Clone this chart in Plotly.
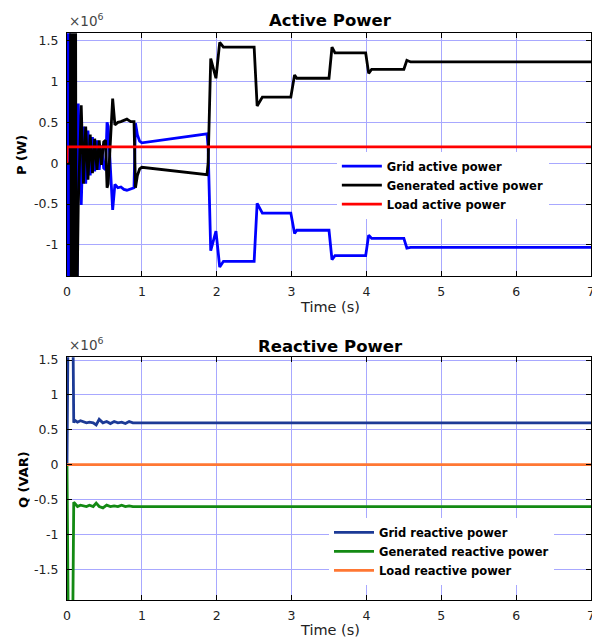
import plotly.graph_objects as go

# ---------------- data (values in units of 1e6) ----------------
t_grid_p = [0, 0.004, 0.01, 0.016, 0.022, 0.028, 0.034, 0.11, 0.128, 0.15, 0.19, 0.22, 0.25, 0.28,
            0.31, 0.34, 0.37, 0.40, 0.43, 0.46, 0.49, 0.515, 0.535, 0.55, 0.61, 0.64, 0.68, 0.72,
            0.76, 0.80, 0.85, 0.895, 0.915, 0.94, 0.97, 1.0, 1.87, 1.885, 1.92, 1.99, 2.04, 2.09,
            2.5, 2.54, 2.61, 2.99, 3.04, 3.07, 3.5, 3.54, 3.58, 3.99, 4.03, 4.07, 4.5, 4.54, 4.59, 7.0]
grid_p = [0, 2.5, -2.5, 2.5, -2.5, 2.5, 0.2, 0.2, -2.5, 0.73, -0.51, 0.45, -0.25, 0.4,
          -0.15, 0.32, -0.1, 0.28, -0.08, 0.22, -0.06, -0.08, 0.5, 0.45, -0.57, -0.26, -0.3, -0.29,
          -0.32, -0.33, -0.31, -0.3, 0.49, 0.35, 0.27, 0.25, 0.36, 0.2, -1.07, -0.83, -1.27, -1.2,
          -1.2, -0.49, -0.61, -0.61, -0.86, -0.82, -0.82, -1.18, -1.13, -1.13, -0.88, -0.92, -0.92,
          -1.04, -1.03, -1.03]

t_gen_p = [0, 0.045, 0.05, 0.058, 0.066, 0.074, 0.082, 0.09, 0.098, 0.106, 0.114, 0.122,
           0.15, 0.19, 0.22, 0.25, 0.28, 0.31, 0.34, 0.37, 0.40, 0.43, 0.46, 0.49,
           0.515, 0.535, 0.55, 0.61, 0.64, 0.68, 0.72, 0.76, 0.80, 0.85, 0.895, 0.915, 0.94, 0.97, 1.0,
           1.87, 1.885, 1.92, 1.99, 2.04, 2.09, 2.5, 2.54, 2.61, 2.99,
           3.04, 3.07, 3.5, 3.54, 3.58, 3.99, 4.03, 4.07, 4.5, 4.54, 4.59, 7.0]
gen_p = [0, 0, 2.5, -2.5, 2.5, -2.5, 2.5, -2.5, 2.5, -2.5, 2.5, -2.5,
         -0.53, 0.71, -0.25, 0.45, -0.2, 0.35, -0.12, 0.3, -0.08, 0.28, -0.02, 0.26,
         0.28, -0.3, -0.25, 0.79, 0.47, 0.5, 0.51, 0.53, 0.54, 0.51, 0.51, -0.3, -0.15, -0.07, -0.05,
         -0.14, 0.0, 1.28, 1.04, 1.48, 1.42, 1.42, 0.7, 0.81, 0.81,
         1.08, 1.04, 1.04, 1.42, 1.35, 1.35, 1.1, 1.15, 1.15, 1.26, 1.24, 1.24]

t_load_p = [0, 0.004, 7.0]
load_p = [0, 0.2, 0.2]

t_q = [0, 0.018, 0.075, 0.09, 0.1, 0.14, 0.18, 0.22, 0.26, 0.3, 0.35, 0.39, 0.43, 0.48,
       0.53, 0.58, 0.63, 0.68, 0.73, 0.78, 0.83, 0.88, 0.95, 7.0]
grid_q = [0, 2.5, 2.5, 0.6, 0.64, 0.61, 0.63, 0.62, 0.6, 0.61, 0.6, 0.57, 0.65, 0.6,
          0.62, 0.59, 0.62, 0.6, 0.61, 0.59, 0.62, 0.6, 0.6, 0.6]
gen_q = [0, -2.5, -2.5, -0.54, -0.55, -0.6, -0.58, -0.59, -0.6, -0.58, -0.6, -0.55, -0.6, -0.62,
         -0.58, -0.6, -0.59, -0.6, -0.58, -0.6, -0.59, -0.6, -0.6, -0.6]
t_load_q = [0, 7.0]
load_q = [0, 0]

x_ticks = [0, 1, 2, 3, 4, 5, 6, 7]
p_ticks = [-1, -0.5, 0, 0.5, 1, 1.5]
p_labels = ["-1", "-0.5", "0", "0.5", "1", "1.5"]
q_ticks = [-1.5, -1, -0.5, 0, 0.5, 1, 1.5]
q_labels = ["-1.5", "-1", "-0.5", "0", "0.5", "1", "1.5"]

# ---------------- figure ----------------
FONT = "DejaVu Sans"
LW = 2.8
fig = go.Figure()
fig.add_trace(go.Scatter(x=t_grid_p, y=grid_p, mode="lines", name="Grid active power",
                         line=dict(color="#0000ff", width=LW), xaxis="x", yaxis="y", legend="legend"))
fig.add_trace(go.Scatter(x=t_gen_p, y=gen_p, mode="lines", name="Generated active power",
                         line=dict(color="#000000", width=LW), xaxis="x", yaxis="y", legend="legend"))
fig.add_trace(go.Scatter(x=t_load_p, y=load_p, mode="lines", name="Load active power",
                         line=dict(color="#ff0000", width=LW), xaxis="x", yaxis="y", legend="legend"))
fig.add_trace(go.Scatter(x=t_q, y=grid_q, mode="lines", name="Grid reactive power",
                         line=dict(color="#1c3a96", width=LW), xaxis="x2", yaxis="y2", legend="legend2"))
fig.add_trace(go.Scatter(x=t_q, y=gen_q, mode="lines", name="Generated reactive power",
                         line=dict(color="#138a13", width=LW), xaxis="x2", yaxis="y2", legend="legend2"))
fig.add_trace(go.Scatter(x=t_load_q, y=load_q, mode="lines", name="Load reactive power",
                         line=dict(color="#ff7733", width=LW), xaxis="x2", yaxis="y2", legend="legend2"))

GRID = "#a8a8ff"
tickfont = dict(family=FONT, size=12.5, color="#222222")
common_x = dict(range=[0, 7], tickvals=x_ticks, ticktext=[str(v) for v in x_ticks],
                showgrid=True, gridcolor=GRID, gridwidth=1, zeroline=False,
                showline=True, linecolor="#000000", linewidth=1, mirror="ticks",
                ticks="inside", ticklen=5, tickcolor="#000000", tickfont=tickfont,
                ticklabelstandoff=4, automargin=False, ticklabeloverflow="allow")
common_y = dict(showgrid=True, gridcolor=GRID, gridwidth=1, zeroline=False,
                showline=True, linecolor="#000000", linewidth=1, mirror="ticks",
                ticks="inside", ticklen=5, tickcolor="#000000", tickfont=tickfont,
                ticklabelstandoff=5, automargin=False)

fig.update_layout(
    width=592, height=637,
    margin=dict(l=67, r=1, t=0, b=0),
    paper_bgcolor="white", plot_bgcolor="white",
    xaxis=dict(domain=[0, 1], anchor="y", **common_x),
    yaxis=dict(domain=[0.5667, 0.9477], anchor="x", range=[-1.38, 1.59],
               tickvals=p_ticks, ticktext=p_labels, **common_y),
    xaxis2=dict(domain=[0, 1], anchor="y2", **common_x),
    yaxis2=dict(domain=[0.0581, 0.4391], anchor="x2", range=[-1.94, 1.54],
                tickvals=q_ticks, ticktext=q_labels, **common_y),
    legend=dict(x=0.515, y=0.762, xanchor="left", yanchor="top", bgcolor="white",
                borderwidth=0, font=dict(family=FONT, size=11.5, color="#000000", weight="bold"),
                tracegroupgap=0, itemwidth=40),
    legend2=dict(x=0.5, y=0.187, xanchor="left", yanchor="top", bgcolor="white",
                 borderwidth=0, font=dict(family=FONT, size=11.5, color="#000000", weight="bold"),
                 tracegroupgap=0, itemwidth=40),
    showlegend=True,
)

ann = [
    dict(text="<b>Active Power</b>", x=0.502, y=0.9686, font=dict(family=FONT, size=16.5, color="#000")),
    dict(text="<b>Reactive Power</b>", x=0.502, y=0.4568, font=dict(family=FONT, size=16.5, color="#000")),
    dict(text="Time (s)", x=0.502, y=0.518, font=dict(family=FONT, size=14.5, color="#222")),
    dict(text="Time (s)", x=0.502, y=0.011, font=dict(family=FONT, size=14.5, color="#222")),
    dict(text="<b>P (W)</b>", x=-0.0859, y=0.7567, textangle=-90, font=dict(family=FONT, size=13, color="#000")),
    dict(text="<b>Q (VAR)</b>", x=-0.082, y=0.2465, textangle=-90, font=dict(family=FONT, size=13, color="#000")),
]
for a in ann:
    fig.add_annotation(xref="paper", yref="paper", showarrow=False, xanchor="center", yanchor="middle", **a)
for yy in (0.9513, 0.4427):
    fig.add_annotation(xref="paper", yref="paper", x=0.0, y=yy, xanchor="left", yanchor="bottom",
                       showarrow=False, text="×10<sup>6</sup>",
                       font=dict(family=FONT, size=13.5, color="#444444"))

fig.write_html("out.html", config={"displayModeBar": False},
               post_script="document.body.style.margin='0px';document.body.style.overflow='hidden';")
